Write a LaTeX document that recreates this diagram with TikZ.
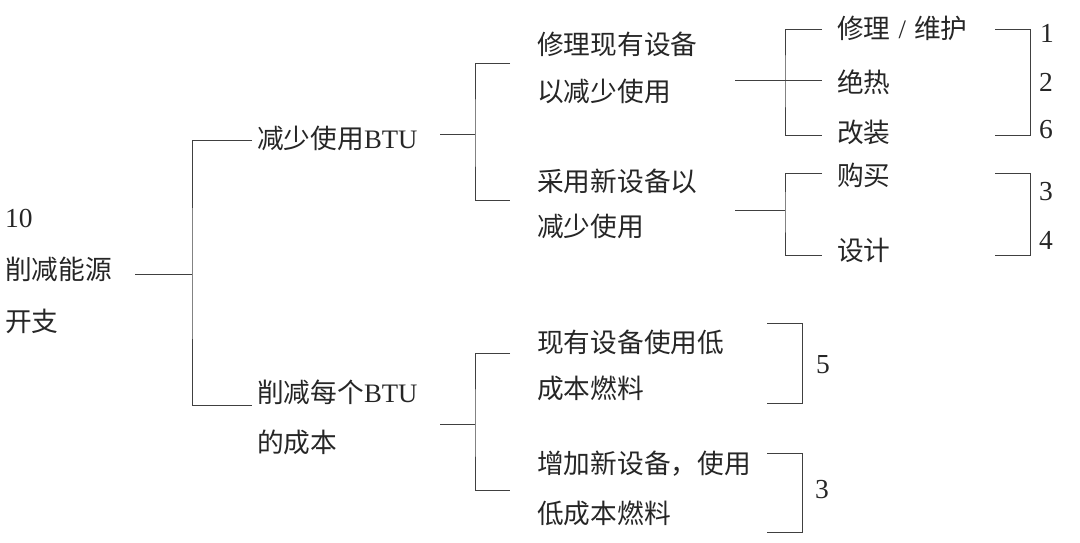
\documentclass[tikz,border=0pt]{standalone}
\usepackage{fontspec}
\setmainfont{Liberation Serif}
\newfontfamily\cjk{Noto Sans CJK SC}
\usepackage{tikz}
\usetikzlibrary{positioning, calc}

\begin{document}
\begin{tikzpicture}[x=1pt, y=-1pt,
        lbl/.style={anchor=west, inner sep=0pt, align=left, text=black!85,
                    font=\fontsize{26.7}{48}\selectfont\cjk},
        num/.style={anchor=west, inner sep=0pt, text=black!85,
                    font=\fontsize{27.5}{30}\selectfont},
        tie/.style={line width=0.9pt, black!75}]
        \useasboundingbox (0,0) rectangle (1080,542);

        % labels
        \node[lbl, font=\fontsize{26.7}{52}\selectfont\cjk] (root) at (5,271) {{\rmfamily\fontsize{27.5}{52}\selectfont 10}\\削减能源\\开支};
        \node[lbl] (use) at (257,138) {减少使用{\rmfamily BTU}};
        \node[lbl, font=\fontsize{26.7}{50}\selectfont\cjk] (cost) at (257,417) {削减每个{\rmfamily BTU}\\的成本};
        \node[lbl, font=\fontsize{26.7}{47}\selectfont\cjk] (fix) at (537,68) {修理现有设备\\以减少使用};
        \node[lbl, font=\fontsize{26.7}{45}\selectfont\cjk] (new) at (537,204) {采用新设备以\\减少使用};
        \node[lbl, font=\fontsize{26.7}{46}\selectfont\cjk] (oldfuel) at (537,365) {现有设备使用低\\成本燃料};
        \node[lbl, font=\fontsize{26.7}{50}\selectfont\cjk] (newfuel) at (537,488) {增加新设备，使用\\低成本燃料};
        \node[lbl] (repair) at (837,28) {修理\hspace{8pt}{\rmfamily/}\hspace{8pt}维护};
        \node[lbl] (insul) at (837,82) {绝热};
        \node[lbl] (refit) at (837,132) {改装};
        \node[lbl] (buy) at (837,175) {购买};
        \node[lbl] (design) at (837,250) {设计};

        \node[num] (n1) at (1040,33) {1};
        \node[num] (n2) at (1039,82) {2};
        \node[num] (n6) at (1039,130) {6};
        \node[num] (n3) at (1039,192) {3};
        \node[num] (n4) at (1039,240) {4};
        \node[num] (n5) at (816,365) {5};
        \node[num] (n3b) at (815,490) {3};

        % fork points
        \coordinate (r0) at (135,274);
        \coordinate (j0) at (192,274);
        \coordinate (use0) at (252,140);
        \coordinate (cost0) at (252,405);
        \coordinate (use1) at (440,134);
        \coordinate (j1) at (475,134);
        \coordinate (fix0) at (510,63);
        \coordinate (new0) at (510,200);
        \coordinate (cost1) at (440,424);
        \coordinate (j2) at (475,424);
        \coordinate (oldfuel0) at (510,353);
        \coordinate (newfuel0) at (510,490);
        \coordinate (fix1) at (735,80);
        \coordinate (j3) at (785,80);
        \coordinate (repair0) at (822,29);
        \coordinate (insul0) at (822,80);
        \coordinate (refit0) at (822,135);
        \coordinate (new1) at (735,210);
        \coordinate (j4) at (785,210);
        \coordinate (buy0) at (822,173);
        \coordinate (design0) at (822,255);

        \draw[tie] (r0) -- (j0);
        \draw[tie] (use0) -| (j0) |- (cost0);
        \draw[tie] (use1) -- (j1);
        \draw[tie] (fix0) -| (j1) |- (new0);
        \draw[tie] (cost1) -- (j2);
        \draw[tie] (oldfuel0) -| (j2) |- (newfuel0);
        \draw[tie] (fix1) -- (insul0);
        \draw[tie] (repair0) -| (j3) |- (refit0);
        \draw[tie] (new1) -- (j4);
        \draw[tie] (buy0) -| (j4) |- (design0);

        % brackets
        \coordinate (k1t) at (995,29);
        \coordinate (k1b) at (995,135);
        \coordinate (k2t) at (995,173);
        \coordinate (k2b) at (995,255);
        \coordinate (k3t) at (767,323);
        \coordinate (k3b) at (767,403);
        \coordinate (k4t) at (767,453);
        \coordinate (k4b) at (767,532);

        \draw[tie] (k1t) -- ++(35,0) |- (k1b);
        \draw[tie] (k2t) -- ++(35,0) |- (k2b);
        \draw[tie] (k3t) -- ++(35,0) |- (k3b);
        \draw[tie] (k4t) -- ++(35,0) |- (k4b);
    \end{tikzpicture}
\end{document}
